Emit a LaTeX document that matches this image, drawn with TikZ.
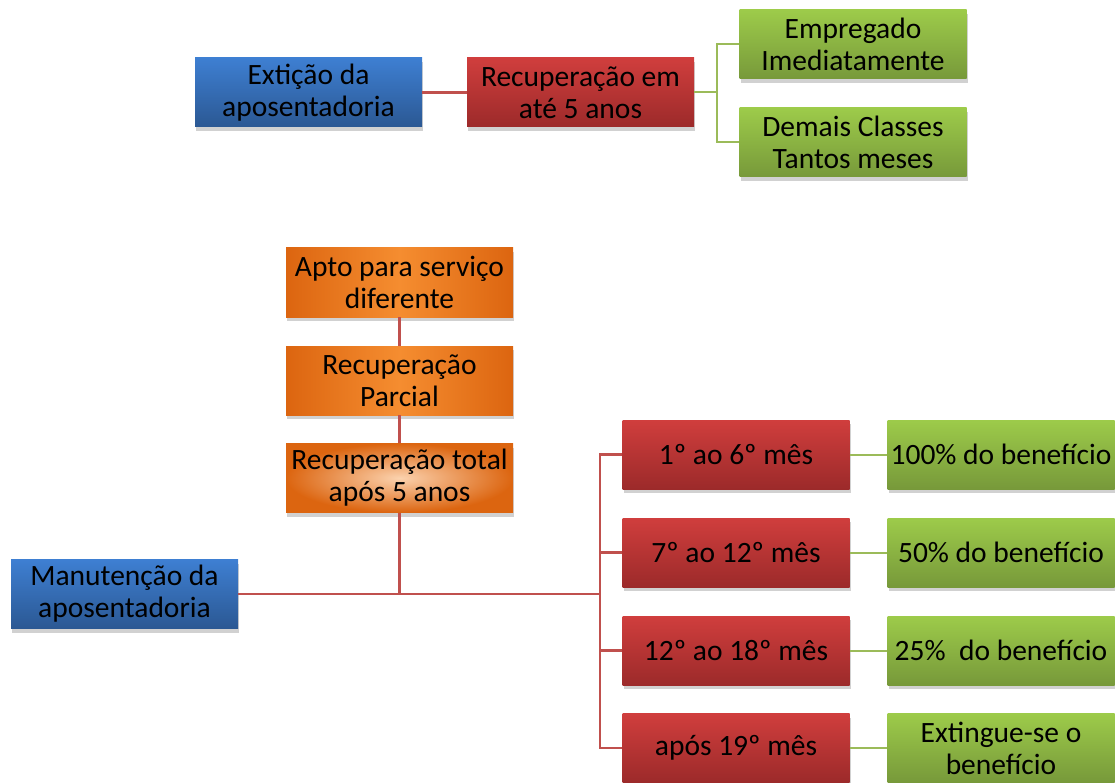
\documentclass[tikz,border=0pt]{standalone}
\usepackage{fontspec}
\setmainfont{Carlito}
\usetikzlibrary{shadows}
\definecolor{blueT}{HTML}{3E7FD2}
\definecolor{blueB}{HTML}{2B5893}
\definecolor{redT}{HTML}{D03E3D}
\definecolor{redB}{HTML}{9C2A2A}
\definecolor{greenT}{HTML}{9DCB4A}
\definecolor{greenB}{HTML}{77993A}
\definecolor{orgE}{HTML}{DC6510}
\definecolor{orgM}{HTML}{F58D30}
\definecolor{orgL}{HTML}{FBD2AE}
\definecolor{redLine}{HTML}{C0504D}
\definecolor{greenLine}{HTML}{9BBB59}
\tikzset{
  box/.style={minimum width=227pt, minimum height=69pt, inner sep=0pt, align=center,
    font=\fontsize{29.5}{32}\selectfont,
    drop shadow={shadow xshift=1pt, shadow yshift=-4pt, opacity=0.18, fill=black}},
  bluebox/.style={box, top color=blueT, bottom color=blueB},
  redbox/.style={box, top color=redT, bottom color=redB},
  greenbox/.style={box, top color=greenT, bottom color=greenB},
  orangebox/.style={box, left color=orgE, right color=orgE, middle color=orgM},
  orangeradial/.style={box, inner color=orgL, outer color=orgE},
  redline/.style={draw=redLine, line width=2.2pt},
  greenline/.style={draw=greenLine, line width=2pt},
}
\begin{document}
\begin{tikzpicture}[x=1pt,y=-1pt]
\useasboundingbox (0,0) rectangle (1115,783);
% top section
\node[bluebox] (ext) at (308.5,92.5) {Extição da\\aposentadoria};
\node[redbox] (rec) at (580.5,92.5) {Recuperação em\\até 5 anos};
\node[greenbox] (emp) at (853,44.5) {Empregado\\Imediatamente};
\node[greenbox] (dem) at (853,142.5) {Demais Classes\\Tantos meses};
\coordinate (gsplit) at (717,92.5);
\draw[redline] (ext.east) -- (rec.west);
\draw[greenline] (rec.east) -- (gsplit);
\draw[greenline] (gsplit) |- (emp.west);
\draw[greenline] (gsplit) |- (dem.west);
% bottom section
\node[orangebox] (apto) at (399.5,282.5) {Apto para serviço\\diferente};
\node[orangebox] (parc) at (399.5,380.5) {Recuperação\\Parcial};
\node[orangeradial] (tot) at (399.5,478) {Recuperação total\\após 5 anos};
\node[bluebox] (man) at (124.5,594) {Manutenção da\\aposentadoria};
\node[redbox] (m1) at (736,454.5) {1º ao 6º mês};
\node[redbox] (m2) at (736,552.5) {7º ao 12º mês};
\node[redbox] (m3) at (736,650.5) {12º ao 18º mês};
\node[redbox] (m4) at (736,748) {após 19º mês};
\node[greenbox] (b1) at (1001,454.5) {100\% do benefício};
\node[greenbox] (b2) at (1001,552.5) {50\% do benefício};
\node[greenbox] (b3) at (1001,650.5) {25\%\ \ do benefício};
\node[greenbox] (b4) at (1001,748) {Extingue-se o\\benefício};
\coordinate (bus) at (600,594);
\draw[redline] (apto.south) -- (parc.north);
\draw[redline] (parc.south) -- (tot.north);
\draw[redline] (tot.south) -- (tot.south |- man.east);
\draw[redline] (man.east) -- (bus);
\draw[redline] (bus) |- (m1.west);
\draw[redline] (bus) |- (m2.west);
\draw[redline] (bus) |- (m3.west);
\draw[redline] (bus) |- (m4.west);
\draw[greenline] (m1.east) -- (b1.west);
\draw[greenline] (m2.east) -- (b2.west);
\draw[greenline] (m3.east) -- (b3.west);
\draw[greenline] (m4.east) -- (b4.west);
\end{tikzpicture}
\end{document}
